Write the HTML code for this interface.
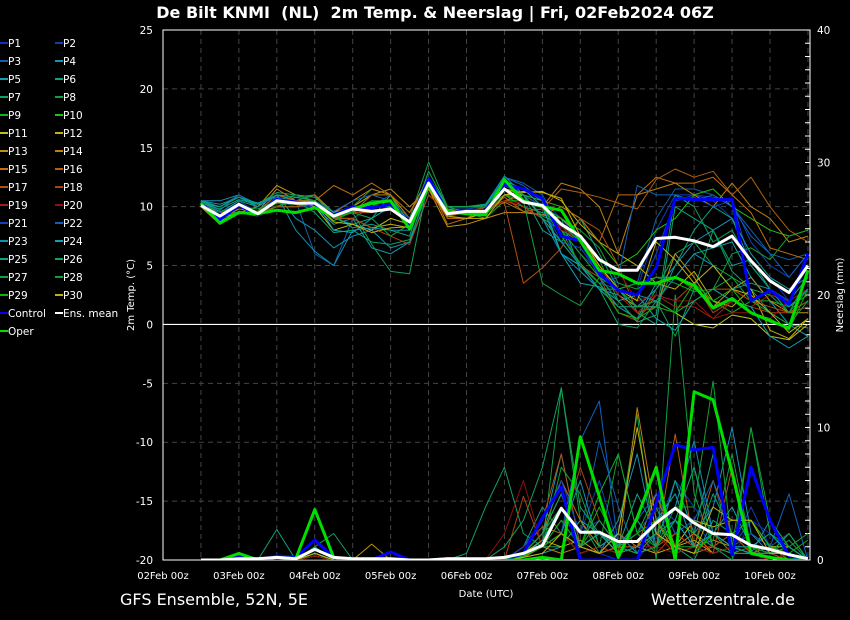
<!DOCTYPE html>
<html><head><meta charset="utf-8"><style>
html,body{margin:0;padding:0;background:#000;width:850px;height:620px;overflow:hidden}
svg{display:block;font-family:"DejaVu Sans","Liberation Sans",sans-serif}
</style></head><body>
<svg id="chart" width="850" height="620" viewBox="0 0 850 620" xmlns="http://www.w3.org/2000/svg">
<rect x="0" y="0" width="850" height="620" fill="#000"/>
<text x="435" y="18" fill="#fff" font-size="16" font-weight="bold" text-anchor="middle" xml:space="preserve">De Bilt KNMI  (NL)  2m Temp. &amp; Neerslag | Fri, 02Feb2024 06Z</text>
<g id="grid"></g>
<g id="axes"></g>
<defs><clipPath id="clip"><rect x="163" y="30" width="647" height="530"/></clipPath></defs>
<g id="precip" clip-path="url(#clip)"></g>
<g id="temp" clip-path="url(#clip)"></g>
<g id="legend"></g>
<text transform="translate(134,295) rotate(-90)" fill="#fff" font-size="10" text-anchor="middle">2m Temp. (°C)</text>
<text transform="translate(843,295) rotate(-90)" fill="#fff" font-size="10" text-anchor="middle">Neerslag (mm)</text>
<text x="486" y="597" fill="#fff" font-size="10" text-anchor="middle">Date (UTC)</text>
<text x="120" y="605" fill="#fff" font-size="16">GFS Ensemble, 52N, 5E</text>
<text x="795" y="605" fill="#fff" font-size="16" text-anchor="end">Wetterzentrale.de</text>
</svg>
<script>
const xLabels=["02Feb 00z","03Feb 00z","04Feb 00z","05Feb 00z","06Feb 00z","07Feb 00z","08Feb 00z","09Feb 00z","10Feb 00z"];
const tempTicks=[25,20,15,10,5,0,-5,-10,-15,-20];
const precTicks=[40,30,20,10,0];
const startStep=2;
const meanT=[10.1,9.2,10.2,9.4,10.5,10.3,10.3,9.2,9.8,9.6,9.8,8.7,12,9.4,9.6,9.6,11.5,10.4,10.1,8.5,7.5,5.5,4.6,4.6,7.3,7.4,7.1,6.6,7.5,5.4,3.7,2.7,5.0];
const ctrlT=[10.3,8.9,10.1,9.3,10.6,10.4,10.2,9.3,10,9.9,10.2,8.5,12.4,9.5,9.6,9.7,11.9,11.5,10.7,7.5,7.1,4.3,2.9,2.5,4.8,10.7,10.6,10.6,10.6,2.0,2.9,1.7,6.0];
const operT=[10.3,8.6,9.5,9.4,9.7,9.5,9.9,9.2,9.8,10.3,10.5,8.1,11.8,9.6,9.4,9.3,12.3,10.5,10,9.7,7.1,4.6,4.3,3.5,3.5,4.0,3.3,1.4,2.2,1.0,0.3,-0.3,4.6];
const meanP=[0,0,0.1,0.1,0.2,0.1,0.8,0.2,0.1,0.1,0.1,0,0,0.1,0.1,0.1,0.2,0.5,1.1,3.9,2.1,2.1,1.4,1.4,2.8,3.9,2.8,2.0,1.9,1.1,0.8,0.4,0.1];
const ctrlP=[0,0,0.2,0,0.3,0.2,1.5,0.2,0,0,0.6,0,0,0,0,0,0,0.5,3.2,5.5,0,0,0,0,4.3,8.7,8.3,8.5,0.4,7.0,3.0,0.3,0];
const operP=[0,0,0.5,0,0.2,0.1,3.8,0.2,0,0,0,0,0,0.1,0.1,0,0,0,0.2,0,9.3,4.8,0.2,3.2,7.0,0,12.7,12.1,6.6,0.5,0.2,0,0];
const P1t=[10,9,10,9.5,10.5,10,10,9,10,9.5,10,8.5,12,9.5,9.5,9.5,11.5,11,10.5,9,7,4,3,2.5,6,10.5,11,10.5,9,6,4,2,4];
const P2t=[10.5,9.5,10.5,9.5,10.8,10.5,10.5,9.5,10,10,10,9,12.3,9.8,9.8,10,12,11.5,10,8,6,4.5,3.5,3,8,11,11,10.8,10.5,7,5,4,6];
const P3t=[10.2,10,11,10,11,10.5,6,5,9,10,11,9,12,10,10,10,12.5,12,11,8,5,3.5,3,3.5,9,11.5,11.5,11,10,8,6,5.5,6];
const P4t=[10.5,10.5,11,10.2,11,9,8,6.5,7.5,8,6.5,7,11,9.5,9.5,9.5,12,11,10,6,5,3,2.5,1.5,3,5,7,8,9,5,3,1,2];
const P5t=[10.3,10,10.8,10,11,10.5,10,8.5,9,6.5,6,7,12,9.8,9.5,10,12,11.5,10.5,6,5,3,1.5,0.5,3.5,4,6,6.5,7,4,2,0,-1];
const P6t=[10,9.5,10.5,10,11,10.5,10.5,9,8.5,9,11,8,13,10,9.5,9.5,12,11,8,7,9,6,3,1,0,10,9,8,5,5.5,3,2,4];
const P7t=[10.2,9.5,10,9.5,10.5,10.5,9.5,7.8,8,7,6.8,7.2,11.5,9.5,9.5,10,11,10,9.5,9,4.5,3,0,-0.3,2,-1,3,8,4.5,3,1,0,-0.3];
const P8t=[10,9,9.5,9.5,10,10.8,11,9.5,10,11.5,11,9,13.8,10,9.5,9.5,11,10,9,8,7,5.5,2,0.3,3,6,7,5,4,3,2.5,1,3];
const P9t=[10.2,9,9.5,9.2,10,10.5,10.5,9,9.5,10.2,10.5,8,12,9.5,9.5,9,10.5,10.5,10,8,6,4,3,3.5,4,4,3,2,1,2,2,1.5,2.5];
const P10t=[10.3,9.5,9.5,9.5,10,10,10.5,9.5,10,11,11,8.5,12.5,9,9,9.5,11.5,11,10.5,10,9,7,5,6,8,9,11,11.5,10,9,8,7.5,8];
const P11t=[10,8.8,9.5,9.3,10.5,10.5,10,8,8.5,8,9,8.5,12,9,9,9.5,11,11,10,9,7.5,5,3,1.5,2,1,0,-0.3,0.8,0.5,-1,-1.3,0];
const P12t=[10.2,9,9.5,9.5,10.5,10.3,10.5,9,9,8.2,8.5,8.2,11.8,9,9,9.5,11.5,11.2,11.3,10.5,8.5,7,6,5,3.5,3,4.5,2,1.5,3,-0.5,-1.2,0.5];
const P13t=[10,8.5,9.5,10,11.8,11,10.8,9.5,10,11,11.5,10,11.5,8.3,8.5,9,9.5,9.5,9.3,9,7.5,5,2.5,1.5,1.5,6,4,1.5,3,4,2,1,1];
const P14t=[10.3,9,9.8,9.6,11.5,10.5,11,9.5,10.5,11.5,11,9.5,12.5,9.8,9.5,10,10.5,11,10,12,11.5,10,6,11,11.5,12,11,10,12,10,9,7,7.5];
const P15t=[10,9.2,10,9.6,11,10.5,10.5,11.8,11,12,11,9,12,8.5,9,10,10.4,9.6,9.3,10,9,7,11,11,12.5,12,12,12.5,11,9.5,6.5,6,5.5];
const P16t=[10.3,9.5,10,9.5,10.5,10.5,11,9,9.5,11,11,9.5,12,9.2,9.5,9.5,10.8,9.6,9.8,11.5,11.2,10.8,10.3,9.8,12.3,13.2,12.5,13,11,12.5,10,8,7];
const P17t=[10.5,9.5,10,9.5,10,10,10.2,9,9.5,9.5,10,8.7,11.5,9,9,10,10.3,3.5,4.8,6.5,9,8,5,1,1.5,1,2,3,3,2,1.5,1,1.5];
const P18t=[10.3,9.2,10,9.5,10.5,10.3,10.5,9,9,8.2,7.5,6.8,11,9.5,9.5,10,10.5,10,9,7,5,4,1,0.3,2.5,2,3.5,1,2,1.5,1,1,2];
const P19t=[10.1,9.2,10.2,9.5,10.5,10.3,10.2,9.3,9.8,9.7,9.8,8.5,11.7,9.3,9.5,9.5,11,10.4,10,8.3,7,5,2.5,1,2.5,1.5,1.5,0.5,2,1.5,2.5,2,3];
const P20t=[10,9.2,10,9.4,10.4,10.2,10.4,9,9.8,9.5,9.8,8.8,12,9.4,9.6,9.5,10.5,10.3,10.2,8,7.5,5.5,4.5,2,2.5,2,2,0.5,1,1,0.5,2,3];
const P21t=[10.4,9.5,10.3,9.5,10.8,10.4,10.3,9.2,10,10,10,8.8,12.3,9.6,9.7,9.7,11.8,11,10,7,6.5,4.3,3,2.5,6,10.5,10.8,10,10.5,5,3,2,5];
const P22t=[10.3,9.7,11,10.2,10.8,10.3,10.5,9.6,10.5,11,10.5,9,12,10,10,10,12.5,11.8,10.5,7.5,5,3.5,4,11.8,11,11,10.5,11,10,7.5,6,4,6];
const P23t=[10.5,10.2,10.8,10,11,8,6.2,5,8,8.2,8,8,11.8,10,10,10.2,12.6,11,9,6,4.5,3,3,2.5,2,4,6,5,3,3.5,3,1.5,3];
const P24t=[10.5,10,10.8,10.3,11,10.8,10.5,8,7.8,9,10,8.5,12.5,10,10,10.2,12.2,11.5,10,6,3.5,3.2,2,2.5,0.5,-0.5,2,3,2,1.5,-1,-2,-1];
const P25t=[10.3,9.8,10.6,10.2,11,10.8,10.5,9.3,8.2,8.5,8,7.5,12.5,10,10,10.2,12,11,9,7,5,3.5,1.5,1.5,1.5,5,8,10,9,6,4,3,4];
const P26t=[10.4,10,10.8,10.2,11.2,11,10.8,9.5,9.5,6.8,4.5,4.3,12.3,10,10,10.1,12,11,9.2,8.5,7,4,2,0.2,0.8,11,10,7,8,5,3,1,4];
const P27t=[10.2,9.6,10,9.8,10.5,11,10.5,9.2,9.5,9,7.5,8.5,13,10,10,10,12.2,10.5,3.5,2.5,1.6,4,3,1.5,2,1,2,3,4,2,1,0,2];
const P28t=[10.1,9.3,10,9.6,10.5,10.3,10.5,9,9.8,10.5,10.5,8,12.5,9.5,9.5,9.5,11.5,10.5,10,9,8,6.5,3.5,3,4,3.5,2.8,3,6,6.5,5.5,7.5,8];
const P29t=[10,9,9.6,9.4,10.3,10.2,10.2,8.8,9.6,10.2,10,8.3,12.2,9.5,9.5,9.3,11,10.5,10,7.5,5.2,3.5,1,0.5,1.5,1,3.5,2,3,1,0.5,-0.5,3];
const P30t=[10.2,8.6,9.5,9.4,10.4,10.2,10.2,8.7,8.5,7.8,8.2,8.3,11.5,9.2,9,9,11,11.3,11.2,10.7,7.5,5,3,2,7,5.5,3.5,5,3,2.5,1,-0.7,0.5];
const P1p=[0,0,0,0,0,0,0.5,0,0,0,0,0,0,0,0,0,0,0.5,2,5,1,0.5,0,0,2,4,3,1,0,3,2,0.5,0];
const P2p=[0,0,0,0,0,0,1,0,0,0,0,0,0,0,0,0,0,0.3,1,3,2,6,1,0.5,2,6,4,2,1,4,1,0.5,0];
const P3p=[0,0,0,0,0,0,0.5,0,0,0,0,0,0,0,0,0,0,1,3,6,2,9,4,0.5,1,3,7,2,1,3,1,2,0];
const P4p=[0,0,0,0,0,0,1,0,0,0,0,0,0,0,0,0,0,0.5,2,8,1,0.5,3,8,1,6,2,4,10,2,0.5,0.5,0];
const P5p=[0,0,0,0,0,0,0.3,0,0,0,0,0,0,0,0,0,0,0.2,0.5,1,3,2,1,0.5,3,5,1,2,4,1,0.5,1,0];
const P6p=[0,0,0.5,0,2.3,0,0.5,0,0,0,0,0,0,0,0,0,0,1,4,2,1,0.5,1,5,2,1,0,3,2,1,0.5,0.5,0];
const P7p=[0,0,0,0,0,0,1,2,0,0,0,0,0,0,0.5,4,7,2,1,1,3,0.5,1,2,4,0.5,1,5,2,1,0.5,0.5,0];
const P8p=[0,0,0,0,0,0,0.5,0,0,0,0,0,0,0,0,0,0,0.5,1,13,3,1,2,11,0,20,5,1,0,10,2,1,0];
const P9p=[0,0,0,0,0,0,0.3,0,0,0,0,0,0,0,0,0,0,0.5,1,3,1,5,8,2,5,1,0.5,2,0.5,1,0,0.5,0];
const P10p=[0,0,0,0,0,0,0.3,0,0,0,0,0,0,0,0,0,0,0.3,1,4,1,2,0.5,3,1,3,2,1,2,0.5,0.5,2,0];
const P11p=[0,0,0,0,0,0,0.5,0,0,0,0,0,0,0,0,0,0,0.3,1,2,0.5,1,0.5,1,2,1,3,2.5,3,3,1,1,0];
const P12p=[0,0,0,0,0,0,0.5,0,0,0,0,0,0,0,0,0,0,0.5,1.5,1,1.5,0.5,1,1,0.5,1,1.5,0.5,1,0.5,1,0.5,0];
const P13p=[0,0,0,0,0,0,0,0,0,1.2,0,0,0,0,0,0,0,0.5,2,5,1,0.5,1,1,3,0.5,1,1.5,1,0.5,0.5,0.5,0];
const P14p=[0,0,0,0,0,0,0.3,0,0,0,0,0,0,0,0,0,0,0.2,1,0.5,1,2,0.5,11.5,3,1,2,0.5,1,0.5,1,0,0];
const P15p=[0,0,0,0,0,0,0.5,0,0,0,0,0,0,0,0,0,0,0.5,2,6,3,1,2,1,5,1,0.5,1,0.5,0.5,0,0.5,0];
const P16p=[0,0,0,0,0,0,0.5,0,0,0,0,0,0,0,0,0,0,1,2.5,2,1,0.5,1,0.5,1,9.5,1,6,2,0.5,1,0.5,0];
const P17p=[0,0,0,0,0,0,0.3,0,0,0,0,0,0,0,0,0,0,0.5,3,8,1,2,1,0.5,1,2,1,0.5,7,1,0.5,0,0];
const P18p=[0,0,0,0,0,0,0.5,0,0,0,0,0,0,0,0,0,0,4.8,1,2,7,3,1,2,0.5,2,1,1,2,0.5,0.5,0.5,0];
const P19p=[0,0,0,0,0,0,0.3,0,0,0,0,0,0,0,0,0,0,0.5,2,4,1,3,1,1,2,0.5,1,2,1,0.5,0.5,0.5,0];
const P20p=[0,0,0,0,0,0,0.3,0,0,0,0,0,0,0,0,0,2,6,1,2,0.5,1,0.5,1,1,0.5,1,0.5,1,0.5,0,0.5,0];
const P21p=[0,0,0,0,0,0,0.5,0,0,0,0,0,0,0,0,0,0,1,3,6,2,3,1,2,4,3,1,2,1,0.5,0.5,1,0];
const P22p=[0,0,0,0,0,0,0.5,0,0,0,0,0,0,0,0,0,0,0.5,1,2,9,12,1,3,5,2,3,6,1,2,1,5,0];
const P23p=[0,0,0,0,0,0,0.5,0,0,0,0,0,0,0,0,0,0,0.3,1,2,6,1,2,0.5,3,4,9,2,1,0.5,3,1,0];
const P24p=[0,0,0,0,0,0,0.5,0,0,0,0,0,0,0,0,0,0,0.3,1.5,4,1,2,0.5,1,2,3,1,2,1,1,2,0.5,0];
const P25p=[0,0,0,0,0,0,0.5,0,0,0,0,0,0,0,0,0,0,0.5,2,5,1,2,1,3,1,6,2,8,1,0.5,0.5,1,0];
const P26p=[0,0,0,0,0,0,0.5,0,0,0,0,0,0,0,0,0,1,3,7,13,4,2,1,0.5,1,3,7,1,0.5,0.5,0.5,2,0];
const P27p=[0,0,0,0,0,0,0.5,0,0,0,0,0,0,0,0,0,0,0.5,2,4,1,3,1,0.5,2,1,1,1.5,8,1,0.5,1.5,0];
const P28p=[0,0,0,0,0,0,0.5,0,0,0,0,0,0,0,0,0,0,0.5,1,7,5,1,8,2,1,4,4,13.5,1,10,3,1,2];
const P29p=[0,0,0,0,0,0,0.5,0,0,0,0,0,0,0,0,0,0,0.3,1,2,1,4,1,2,3,1,0.5,2,2,3,1,0.5,1.5];
const P30p=[0,0,0,0,0,0,0.5,0,0,0,0,0,0,0,0,0,0,0.2,0.5,2,1,0.5,2,10,2,1,0.5,4,3,3,0.5,0.5,0];
const memberColors=["#1030c0","#1040b0","#1060a8","#1890b8","#10a0b0","#10a080","#10a060","#10a040","#10b020","#20c010","#c0c010","#c0b010","#c09010","#c08010","#c07010","#b06010","#b05010","#b04010","#a02010","#901010","#1040c0","#1060c0","#1090b0","#10a0b0","#10a080","#10a060","#10a040","#10a030","#10b010","#c0b010"];
const memT=[P1t,P2t,P3t,P4t,P5t,P6t,P7t,P8t,P9t,P10t,P11t,P12t,P13t,P14t,P15t,P16t,P17t,P18t,P19t,P20t,P21t,P22t,P23t,P24t,P25t,P26t,P27t,P28t,P29t,P30t];
const memP=[P1p,P2p,P3p,P4p,P5p,P6p,P7p,P8p,P9p,P10p,P11p,P12p,P13p,P14p,P15p,P16p,P17p,P18p,P19p,P20p,P21p,P22p,P23p,P24p,P25p,P26p,P27p,P28p,P29p,P30p];

const NS="http://www.w3.org/2000/svg";
const L=163,R=810,T=30,B=560,dayW=(770-163)/8;
const xS=s=>L+s*dayW/4;
const yT=v=>T+(25-v)*(B-T)/45;
const yP=v=>B-v*(B-T)/40;
function mk(tag,attrs,parent){const e=document.createElementNS(NS,tag);for(const k in attrs)e.setAttribute(k,attrs[k]);parent.appendChild(e);return e;}
const grid=document.getElementById('grid'),axes=document.getElementById('axes');
for(let h=0;h<=21;h++){const x=L+h*dayW/2;if(x>R-2||h===0)continue;
 const g=mk('line',{x1:x,x2:x,y1:T,y2:B,stroke:'#444','stroke-dasharray':'5,4','stroke-width':1},grid);
 
 }
tempTicks.forEach(v=>{const y=yT(v);
 if(v!==0&&v!==25&&v!==-20){const g=mk('line',{x1:L,x2:R,y1:y,y2:y,stroke:'#444','stroke-dasharray':'5,4'},grid);
 
 }
 const t=mk('text',{x:153,y:y+4,fill:'#fff','font-size':10.5,'text-anchor':'end'},axes);t.textContent=v;
 
 });
precTicks.forEach(v=>{const t=mk('text',{x:817,y:yP(v)+4,fill:'#fff','font-size':10.5},axes);t.textContent=v;
 
 });
for(let v=1;v<40;v++){mk('line',{x1:R-5,x2:R,y1:yP(v),y2:yP(v),stroke:'#fff','stroke-width':1},axes);}
xLabels.forEach((s,i)=>{const t=mk('text',{x:L+i*dayW,y:579,fill:'#fff','font-size':10,'text-anchor':'middle'},axes);t.textContent=s;
 
 });
mk('rect',{x:L,y:T,width:R-L,height:B-T,fill:'none',stroke:'#fff','stroke-width':1},axes);
const zl=mk('line',{x1:L,x2:R,y1:yT(0),y2:yT(0),stroke:'#fff','stroke-width':1.2},axes);


function line(arr,yf,color,w,parent,name){
 const pts=arr.map((v,i)=>xS(i+startStep).toFixed(1)+','+yf(v).toFixed(1)).join(' ');
 const p=mk('polyline',{points:pts,fill:'none',stroke:color,'stroke-width':w,'stroke-linejoin':'round'},parent);
 
 }
const gp=document.getElementById('precip'),gt=document.getElementById('temp');
memP.forEach((a,i)=>line(a,yP,memberColors[i],1,gp,'precip-p'+(i+1)));
memT.forEach((a,i)=>line(a,yT,memberColors[i],1,gt,'temp-p'+(i+1)));
line(ctrlP,yP,'#0000ff',3,gp,'precip-control');
line(operP,yP,'#00e000',3,gp,'precip-oper');
line(meanP,yP,'#ffffff',3,gp,'precip-ens-mean');
line(ctrlT,yT,'#0000ff',3,gt,'temp-control');
line(operT,yT,'#00e000',3,gt,'temp-oper');
line(meanT,yT,'#ffffff',3,gt,'temp-ens-mean');
const lg=document.getElementById('legend');
const entries=[];for(let i=0;i<30;i++)entries.push(['P'+(i+1),memberColors[i]]);
entries.push(['Control','#0000ff'],['Ens. mean','#ffffff'],['Oper','#00e000']);
entries.forEach((e,i)=>{const col=i%2,row=Math.floor(i/2);const x=col?55:0,y=43+row*18;
 const g=mk('g',{},lg);
 
 
 mk('line',{x1:x,x2:x+8,y1:y,y2:y,stroke:e[1],'stroke-width':2},g);
 const t=mk('text',{x:x+8,y:y+4,fill:'#fff','font-size':10.5},g);t.textContent=e[0];});
</script>
</body></html>
